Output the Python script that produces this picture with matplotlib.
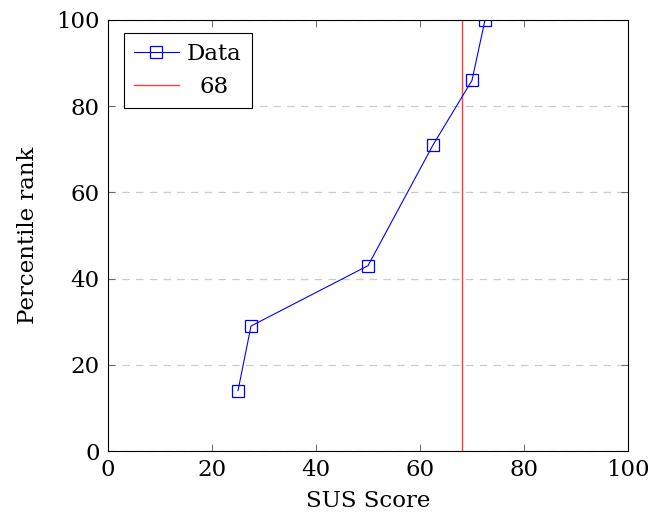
import matplotlib
matplotlib.use("Agg")
import matplotlib.pyplot as plt

sus_score = [25, 27.5, 50, 62.5, 70, 72.5]
percentile = [14, 29, 43, 71, 86, 100]
threshold = 68
xticks = [0, 20, 40, 60, 80, 100]
yticks = [0, 20, 40, 60, 80, 100]

plt.rcParams['font.family'] = ['DejaVu Serif']
FS = 16.5

fig = plt.figure(figsize=(6.5, 5.27), dpi=100)
ax = fig.add_axes([108/650, 76/527, 520/650, 431/527])

ax.plot(sus_score, percentile, color='#0000ff', lw=0.8, marker='s', markersize=8,
        markerfacecolor='none', markeredgecolor='#0000ff', markeredgewidth=0.9,
        label='Data', zorder=3)
ax.axvline(threshold, color='#ff3b3b', lw=1.0, label=str(threshold), zorder=2)

ax.set_xlim(0, 100)
ax.set_ylim(0, 100)
ax.set_xticks(xticks)
ax.set_yticks(yticks)
ax.yaxis.grid(True, linestyle=(0, (6, 5)), color='#cccccc', lw=0.9)
ax.set_axisbelow(True)
ax.tick_params(direction='in', top=True, right=True, length=5, width=0.6,
               color='#555555', labelsize=FS, pad=6)
for s in ax.spines.values():
    s.set_linewidth(0.8)
ax.set_xlabel('SUS Score', fontsize=FS, labelpad=6)
ax.set_ylabel('Percentile rank', fontsize=FS, labelpad=12)

leg = ax.legend(loc='upper left', bbox_to_anchor=(0.03, 0.97), fontsize=FS,
                fancybox=False, edgecolor='black', framealpha=1,
                handlelength=1.95, handletextpad=0.35, borderpad=0.45,
                labelspacing=0.45, borderaxespad=0)
leg.get_frame().set_linewidth(0.8)

# centre the shorter legend label under the longer one (as in the reference)
fig.canvas.draw()
r = fig.canvas.get_renderer()
texts = leg.get_texts()
w0 = texts[0].get_window_extent(r).width
w1 = texts[1].get_window_extent(r).width
texts[1].set_x((w0 - w1) / 2)

fig.savefig('out.png', dpi=100)
